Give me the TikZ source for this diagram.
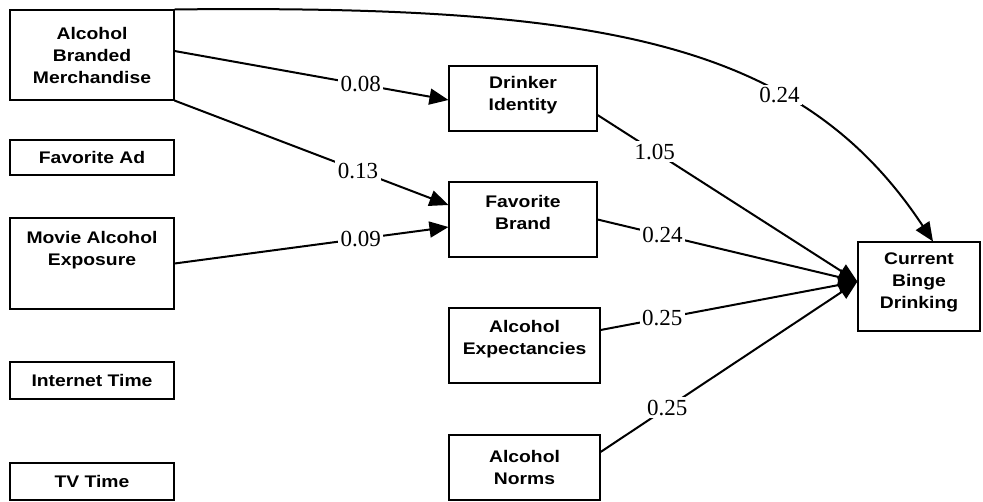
\documentclass[tikz,border=0pt]{standalone}
\usepackage{fontspec}
\newfontfamily\boxfont[FakeStretch=1.15]{Liberation Sans}
\newfontfamily\numfont{Liberation Serif}
\usetikzlibrary{arrows.meta,positioning}

% width, height, lift (twice the upward shift), text
\newcommand{\boxtext}[4]{\parbox[c][#2pt][c]{#1pt}{\centering\bfseries #4\par\vspace{#3pt}}}

\tikzset{
    box/.style={draw, line width=1.1pt, inner sep=0pt, font=\boxfont\fontsize{16.8}{22}\selectfont},
    link/.style={line width=2pt, -{Triangle[length=19pt,width=16pt]}},
    num/.style={fill=white, inner sep=2.5pt, font=\numfont\fontsize{23}{25}\selectfont}
}

\begin{document}
\begin{tikzpicture}[x=1pt,y=-1pt]
        \useasboundingbox (0,0) rectangle (983,501);

        % left column
        \node[box] (abm) at (92,55) {\boxtext{164}{90}{0}{Alcohol\\Branded\\Merchandise}};
        \node[box] (fad) at (92,157.5) {\boxtext{164}{35}{0}{Favorite Ad}};
        \node[box] (mae) at (92,263.5) {\boxtext{164}{91}{26}{Movie Alcohol\\Exposure}};
        \node[box] (itime) at (92,380.5) {\boxtext{164}{37}{0}{Internet Time}};
        \node[box] (tvtime) at (92,481.5) {\boxtext{164}{37}{0}{TV Time}};

        % middle column
        \node[box] (di) at (523,98.5) {\boxtext{148}{65}{6}{Drinker\\Identity}};
        \node[box] (fb) at (523,219.5) {\boxtext{148}{75}{14}{Favorite\\Brand}};
        \node[box] (ae) at (524.5,345.5) {\boxtext{151}{75}{12}{Alcohol\\Expectancies}};
        \node[box] (norms) at (524.5,467.5) {\boxtext{151}{65}{0}{Alcohol\\Norms}};

        % outcome
        \node[box] (cbd) at (919,286.5) {\boxtext{122}{89}{8}{Current\\Binge\\Drinking}};
        \coordinate (hub) at ([yshift=5pt]cbd.west);

        \draw[link] ([yshift=4pt]abm.east) -- node[num, pos=0.68] {0.08} ([yshift=-1.5pt]di.west);
        \draw[link] (abm.south east) -- node[num, pos=0.67] {0.13} ([yshift=14.5pt]fb.west);
        \draw[link] (mae.east) -- node[num, pos=0.68] {0.09} ([yshift=-7.5pt]fb.west);

        \draw[link] ([yshift=-16.5pt]di.east) -- node[num, pos=0.22] {1.05} (hub);
        \draw[link] (fb.east) -- node[num, pos=0.25] {0.24} (hub);
        \draw[link] ([yshift=15.5pt]ae.east) -- node[num, pos=0.24] {0.25} (hub);
        \draw[link] ([yshift=15.5pt]norms.east) -- node[num, pos=0.26] {0.25} (hub);

        \draw[link] (abm.north east) .. controls (600,5) and (800,40) .. ([xshift=14pt]cbd.north)
            node[num, pos=0.68] {0.24};
    \end{tikzpicture}
\end{document}
